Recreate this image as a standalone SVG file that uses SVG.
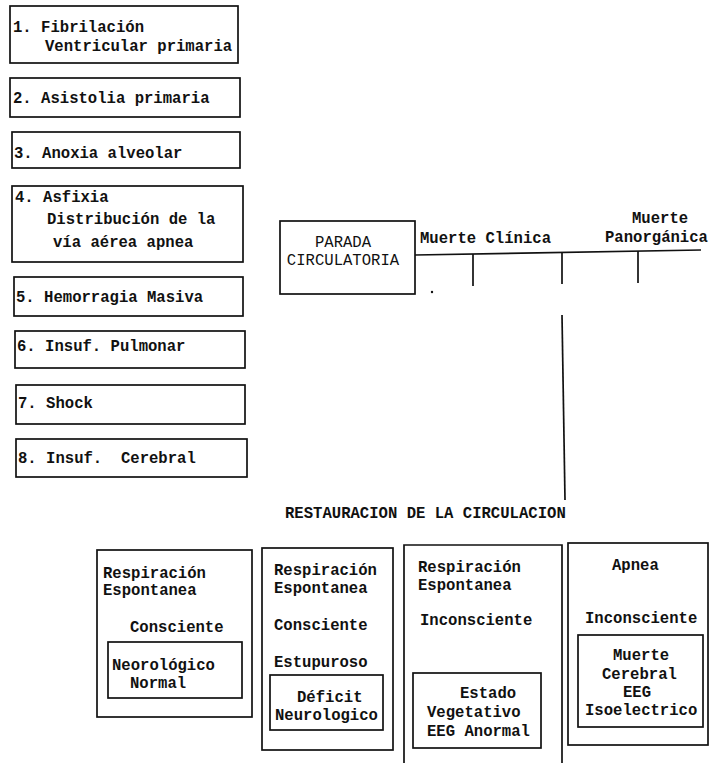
<svg xmlns="http://www.w3.org/2000/svg" width="711" height="763" viewBox="0 0 711 763">
<style>
  rect, path.box { fill: none; stroke: #111; stroke-width: 1.7; }
  .c line { stroke: #111; stroke-width: 1.7; }
  text { font-family: "Liberation Mono", "DejaVu Sans Mono", monospace; font-size: 15.6px; font-weight: bold; fill: #111; }
  .lt { font-weight: normal; }
</style>
<rect width="711" height="763" fill="#fff" style="stroke:none"/>

<g id="n1"><rect x="10" y="6" width="228" height="57"/>
  <text x="13" y="32">1. Fibrilación</text>
  <text x="45" y="51">Ventricular primaria</text></g>
<g id="n2"><rect x="10" y="78" width="230" height="39"/>
  <text x="13" y="103">2. Asistolia primaria</text></g>
<g id="n3"><rect x="12" y="132" width="228" height="36"/>
  <text x="14" y="158">3. Anoxia alveolar</text></g>
<g id="n4"><rect x="12" y="186" width="231" height="76"/>
  <text x="15" y="202">4. Asfixia</text>
  <text x="47" y="224">Distribución de la</text>
  <text x="53" y="247">vía aérea apnea</text></g>
<g id="n5"><rect x="14" y="277" width="229" height="39"/>
  <text x="16" y="302">5. Hemorragia Masiva</text></g>
<g id="n6"><rect x="15" y="331" width="230" height="37"/>
  <text x="17" y="351">6. Insuf. Pulmonar</text></g>
<g id="n7"><rect x="16" y="385" width="229" height="39"/>
  <text x="18" y="408">7. Shock</text></g>
<g id="n8"><rect x="16" y="439" width="231" height="38"/>
  <text x="18" y="463" xml:space="preserve">8. Insuf.  Cerebral</text></g>

<g id="parada"><rect x="280" y="221" width="135" height="73"/>
  <text class="lt" x="343" y="247" text-anchor="middle">PARADA</text>
  <text class="lt" x="343" y="265" text-anchor="middle">CIRCULATORIA</text></g>

<g id="timeline-labels">
  <text x="420" y="243">Muerte Clínica</text>
  <text x="632" y="223">Muerte</text>
  <text x="605" y="242">Panorgánica</text>
</g>

<g class="c" id="connectors">
  <line x1="415" y1="255" x2="701" y2="250"/>
  <line x1="473" y1="254" x2="473" y2="286"/>
  <line x1="562" y1="253" x2="562" y2="284"/>
  <line x1="638" y1="251" x2="638" y2="283"/>
  <line x1="562" y1="315" x2="565" y2="500"/>
</g>
<circle cx="432" cy="292" r="1.2" fill="#111"/>

<text x="285" y="518">RESTAURACION DE LA CIRCULACION</text>

<g id="bA"><rect x="97" y="550" width="155" height="167"/>
  <text x="103" y="578">Respiración</text>
  <text x="103" y="595">Espontanea</text>
  <text x="130" y="632">Consciente</text>
  <rect x="108" y="642" width="134" height="56"/>
  <text x="112" y="670">Neorológico</text>
  <text x="130" y="688">Normal</text></g>

<g id="bB"><rect x="262" y="548" width="131" height="202"/>
  <text x="274" y="575">Respiración</text>
  <text x="274" y="593">Espontanea</text>
  <text x="274" y="630">Consciente</text>
  <text x="274" y="667">Estupuroso</text>
  <rect x="270" y="675" width="113" height="55"/>
  <text x="297" y="702">Déficit</text>
  <text x="275" y="720">Neurologico</text></g>

<g id="bC"><path class="box" d="M404,763 V545 H562 V763"/>
  <text x="418" y="572">Respiración</text>
  <text x="418" y="590">Espontanea</text>
  <text x="420" y="625">Inconsciente</text>
  <rect x="413" y="673" width="128" height="75"/>
  <text x="460" y="698">Estado</text>
  <text x="427" y="717">Vegetativo</text>
  <text x="427" y="736">EEG Anormal</text></g>

<g id="bD"><rect x="568" y="543" width="140" height="202"/>
  <text x="612" y="570">Apnea</text>
  <text x="585" y="623">Inconsciente</text>
  <rect x="578" y="635" width="125" height="92"/>
  <text x="613" y="660">Muerte</text>
  <text x="602" y="679">Cerebral</text>
  <text x="623" y="697">EEG</text>
  <text x="585" y="715">Isoelectrico</text></g>
</svg>
